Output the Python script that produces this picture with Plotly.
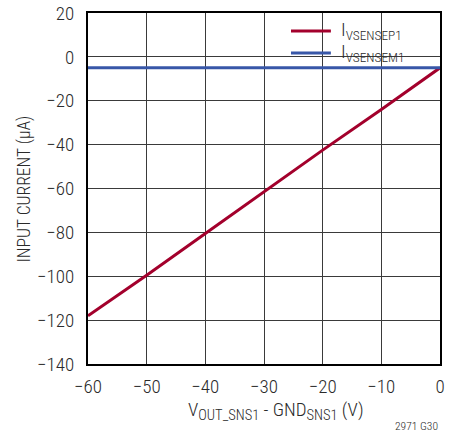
import plotly.graph_objects as go

x_volts = [-60, -50, -40, -30, -20, -10, 0]
i_vsensep1 = [-118, -99.5, -80.5, -61.5, -42.5, -24, -5]
i_vsensem1 = [-5, -5, -5, -5, -5, -5, -5]
x_ticks = [-60, -50, -40, -30, -20, -10, 0]
y_ticks = [-140, -120, -100, -80, -60, -40, -20, 0, 20]
series_names = ["I<sub>VSENSEP1</sub>", "I<sub>VSENSEM1</sub>"]
series_colors = ["#A3002C", "#3857A8"]

FONT = "Roboto Condensed, Liberation Sans Narrow, sans-serif"
TXT = "#2a2a2a"

fig = go.Figure()
for yv, nm, col in zip([i_vsensep1, i_vsensem1], series_names, series_colors):
    fig.add_trace(go.Scatter(x=x_volts, y=yv, mode="lines",
                             line=dict(color=col, width=3), name=nm,
                             showlegend=False))

fig.update_layout(
    width=455, height=435,
    margin=dict(l=88, r=15, t=13, b=71, autoexpand=False),
    paper_bgcolor="white", plot_bgcolor="white",
    font=dict(family=FONT, size=19, color=TXT, weight=300),
    showlegend=False,
    xaxis=dict(range=[-60, 0], tickvals=x_ticks, showgrid=True,
               gridcolor="#3a3a3a", gridwidth=1, zeroline=False,
               showline=True, linecolor="black", linewidth=2, mirror=True,
               ticks="", tickfont=dict(family=FONT, size=19, weight=300),
               automargin=False, ticklabelstandoff=4),
    yaxis=dict(range=[-140, 20], tickvals=y_ticks, showgrid=True,
               gridcolor="#3a3a3a", gridwidth=1, zeroline=False,
               showline=True, linecolor="black", linewidth=2, mirror=True,
               ticks="", tickfont=dict(family=FONT, size=19, weight=300),
               automargin=False, ticklabelstandoff=8),
)
# x-axis title
fig.add_annotation(text="V<sub><span style='font-size:14.5px'>OUT_SNS1</span></sub> - GND<sub><span style='font-size:14.5px'>SNS1</span></sub> (V)",
                   xref="paper", yref="paper", x=0.533, y=-0.134, showarrow=False,
                   xanchor="center", yanchor="middle",
                   font=dict(family=FONT, size=19, color=TXT, weight=300))
# y-axis title
fig.add_annotation(text="INPUT CURRENT (μA)", xref="paper", yref="paper",
                   x=-0.179, y=0.5, textangle=-90, showarrow=False,
                   xanchor="center", yanchor="middle",
                   font=dict(family=FONT, size=17.5, color=TXT, weight=300))
# white background behind the legend (between gridlines and traces)
fig.add_shape(type="rect", xref="paper", yref="y", x0=0.554, x1=0.949,
              y0=-5, y1=20, fillcolor="white", line=dict(width=0), layer="between")
# legend: samples + labels
leg_y = [0.9487, 0.886]
for ly, nm, col in zip(leg_y, series_names, series_colors):
    fig.add_shape(type="line", xref="paper", yref="paper", x0=0.5767, x1=0.690,
                  y0=ly, y1=ly, line=dict(color=col, width=3))
    fig.add_annotation(text=nm, xref="paper", yref="paper", x=0.713, y=ly,
                       xanchor="left", yanchor="middle", showarrow=False,
                       yshift=1, font=dict(family=FONT, size=19, color=TXT, weight=300))
fig.add_annotation(text="2971 G30", xref="paper", yref="paper", x=1.0, y=-0.15,
                   xanchor="right", yanchor="top", showarrow=False,
                   font=dict(family=FONT, size=11.5, color=TXT, weight=300))
fig.write_html("out.html", config={"displayModeBar": False},
               post_script="document.body.style.margin='0';")
